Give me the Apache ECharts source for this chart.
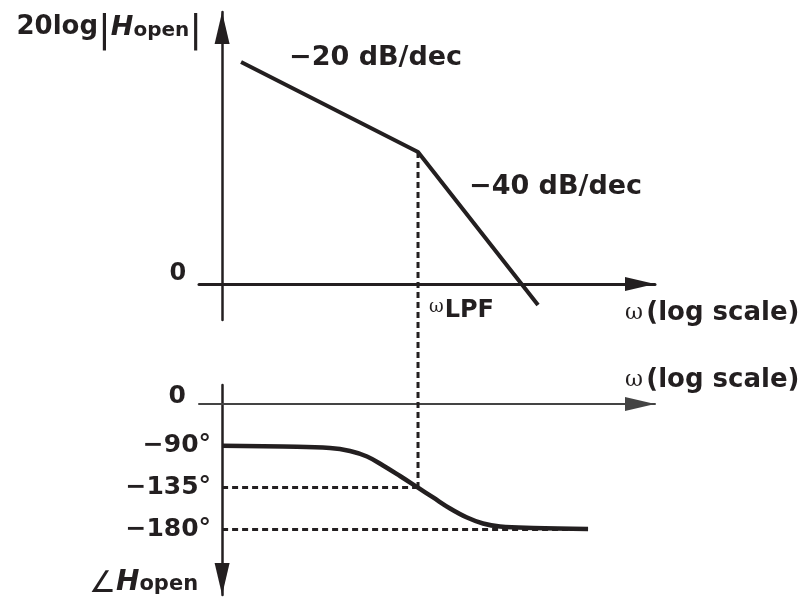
<!DOCTYPE html>
<html><head><meta charset="utf-8">
<script src="https://cdn.jsdelivr.net/npm/echarts@6/dist/echarts.min.js"></script>
<style>html,body{margin:0;padding:0;background:#fff}#c{width:805px;height:605px}</style>
</head><body><div id="c"></div>
<script>
// ---- data ----
const omegaRange = [0.7, 800];          // log-scale frequency axis extent
const omegaCross = 1;                   // where the vertical axes cross the ω axes
const wLPF = 20.6;                      // corner frequency
const magOmega = [1.34, wLPF, 131.4];
const magDb = [55.5, 33, -5.25];
const magRange = [-9, 68];
const magTicks = [0];
const phaseOmega = [1.0, 2.56, 5.29, 7.21, 9.37, 12.0, 15.6, wLPF, 26.0, 33.8, 43.9, 56.2, 73.1, 121.7, 284.5];
const phaseDeg = [-90, -91, -92.5, -95.7, -101.6, -111.2, -122.5, -135, -145.5, -157.3, -167, -173.4, -176.6, -178.2, -179.3];
const phaseRange = [-250, -25];
const phaseTicks = [-90, -135, -180];
const phaseAxisRef = -45;               // level of the drawn "0" reference axis
const slopeLabels = ['\u221220 dB/dec', '\u221240 dB/dec'];

const INK = '#231f20';
const FONT = 'DejaVu Sans';
const chart = echarts.init(document.getElementById('c'), null, {renderer: 'canvas'});

const gridL = 199, gridR = 150;
const nameRich = {w: {fontFamily: 'DejaVu Serif', fontSize: 22, color: INK},
                  b: {fontFamily: FONT, fontWeight: 'bold', fontSize: 26, color: INK}};
const option = {
  animation: false,
  backgroundColor: '#fff',
  grid: [
    {left: gridL, right: gridR, top: 12, height: 308},
    {left: gridL, right: gridR, top: 385, height: 210}
  ],
  xAxis: [
    {
      type: 'log', gridIndex: 0, min: omegaRange[0], max: omegaRange[1],
      axisLine: {onZero: true, symbol: ['none', 'triangle'], symbolSize: [14, 30], symbolOffset: [0, -15],
        lineStyle: {color: INK, width: 3}},
      axisTick: {show: false}, axisLabel: {show: false}, splitLine: {show: false}, minorSplitLine: {show: false},
      name: '{w|\u03c9} {b|(log scale)}', nameLocation: 'end', nameGap: -30,
      nameTextStyle: {align: 'left', verticalAlign: 'top', padding: [16, 0, 0, 0], rich: nameRich}
    },
    {
      type: 'log', gridIndex: 1, min: omegaRange[0], max: omegaRange[1], position: 'top', offset: -19,
      axisLine: {onZero: false, symbol: ['none', 'triangle'], symbolSize: [14, 30], symbolOffset: [0, -15],
        lineStyle: {color: '#444', width: 2}},
      axisTick: {show: false}, axisLabel: {show: false}, splitLine: {show: false},
      name: '{w|\u03c9} {b|(log scale)}', nameLocation: 'end', nameGap: -30,
      nameTextStyle: {align: 'left', verticalAlign: 'bottom', padding: [0, 0, 11, 0], rich: nameRich}
    }
  ],
  yAxis: [
    {
      type: 'value', gridIndex: 0, min: magRange[0], max: magRange[1],
      axisLine: {show: true, onZero: false, symbol: ['none', 'triangle'], symbolSize: [15, 32], symbolOffset: [0, -16],
        lineStyle: {color: INK, width: 2.5}},
      axisTick: {show: false}, splitLine: {show: false},
      axisLabel: {customValues: magTicks, formatter: v => String(v), margin: 36, verticalAlign: 'bottom',
        lineHeight: 20, fontFamily: FONT, fontWeight: 'bold', fontSize: 24, color: INK}
    },
    {
      type: 'value', gridIndex: 1, min: phaseRange[0], max: phaseRange[1],
      axisLine: {show: true, onZero: false, symbol: ['triangle', 'none'], symbolSize: [15, 32], symbolOffset: [16, 0],
        lineStyle: {color: INK, width: 2.5}},
      axisTick: {show: false}, splitLine: {show: false},
      axisLabel: {customValues: phaseTicks, formatter: v => String(v).replace('-', '\u2212') + '\u00b0', margin: 11,
        fontFamily: FONT, fontWeight: 'bold', fontSize: 25, color: INK}
    }
  ],
  series: [
    {
      type: 'line', xAxisIndex: 0, yAxisIndex: 0, symbol: 'none',
      data: magOmega.map((w, i) => [w, magDb[i]]),
      lineStyle: {color: INK, width: 4}
    },
    {
      type: 'line', xAxisIndex: 1, yAxisIndex: 1, symbol: 'none', smooth: 0.4,
      data: phaseOmega.map((w, i) => [w, phaseDeg[i]]),
      lineStyle: {color: INK, width: 4.5},
      markLine: {
        silent: true, symbol: ['none', 'none'], label: {show: false},
        lineStyle: {color: INK, width: 3, type: [6, 4]},
        data: [
          [{coord: [omegaCross, -135]}, {coord: [wLPF, -135]}],
          [{coord: [omegaCross, -180]}, {coord: [phaseOmega[phaseOmega.length - 1], -180]}]
        ]
      }
    }
  ]
};
chart.setOption(option);

function place() {
  const crossX = chart.convertToPixel({xAxisIndex: 0}, omegaCross);
  const off = -(crossX - gridL);
  const pBreak = chart.convertToPixel({seriesIndex: 0}, [wLPF, magDb[1]]);
  const pPhase = chart.convertToPixel({seriesIndex: 1}, [wLPF, -135]);
  const pZero = chart.convertToPixel({seriesIndex: 0}, [wLPF, 0]);
  const refY = chart.convertToPixel({yAxisIndex: 1}, phaseAxisRef);
  const p1 = chart.convertToPixel({seriesIndex: 0}, [magOmega[0], magDb[0]]);
  const topY = chart.convertToPixel({yAxisIndex: 0}, magRange[1]);
  const botY = chart.convertToPixel({yAxisIndex: 1}, phaseRange[0]);
  const txt = (x, y, text, extra) => Object.assign({type: 'text', x: x, y: y, silent: true,
    style: Object.assign({text: text, fill: INK, font: 'bold 27px "DejaVu Sans"'}, extra || {})});
  chart.setOption({
    yAxis: [{offset: off}, {offset: off}],
    graphic: {elements: [
      {type: 'line', silent: true, shape: {x1: pBreak[0], y1: pBreak[1], x2: pPhase[0], y2: pPhase[1]},
        style: {stroke: INK, lineWidth: 3, lineDash: [6, 4]}, z: 1},
      txt(p1[0] + 48, p1[1] - 18, slopeLabels[0]),
      txt(pBreak[0] + 51, pBreak[1] + 21, slopeLabels[1]),
      txt(pZero[0] + 11, pZero[1] + 14, '{w|\u03c9}{b|LPF}', {
        rich: {w: {font: '18px "DejaVu Serif"', fill: INK, verticalAlign: 'top', padding: [0, 1, 8, 0]},
               b: {font: 'bold 24px "DejaVu Sans"', fill: INK}}}),
      txt(gridL - 13, refY - 7, '0', {font: 'bold 25px "DejaVu Sans"', align: 'right', verticalAlign: 'middle'}),
      txt(crossX - 20, topY - 3, '{a|20log}{p||}{h|H}{s|open}{p||}', {
        align: 'right', verticalAlign: 'top',
        rich: {a: {font: 'bold 26px "DejaVu Sans"', fill: INK, lineHeight: 32, padding: [0, 0, 7, 0]},
               p: {font: '38px "DejaVu Sans"', fill: INK, lineHeight: 44},
               h: {font: 'italic bold 27px "DejaVu Sans"', fill: INK, lineHeight: 32, padding: [0, 0, 7, 0]},
               s: {font: 'bold 20px "DejaVu Sans"', fill: INK, lineHeight: 24}}}),
      txt(crossX - 24, botY + 6, '{g|\u2220}{h|H}{s|open}', {
        align: 'right', verticalAlign: 'bottom',
        rich: {g: {font: '30px "DejaVu Sans"', fill: INK, lineHeight: 32, padding: [0, 0, 2, 0]},
               h: {font: 'italic bold 28px "DejaVu Sans"', fill: INK, lineHeight: 32, padding: [0, 0, 5, 0]},
               s: {font: 'bold 21px "DejaVu Sans"', fill: INK, lineHeight: 24}}})
    ]}
  });
}
place();
</script>
</body></html>
